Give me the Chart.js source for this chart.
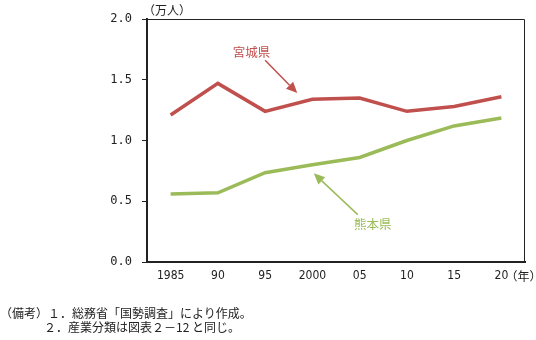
<!DOCTYPE html>
<html>
<head>
<meta charset="utf-8">
<script src="https://cdn.jsdelivr.net/npm/chart.js@4"></script>
<style>
  body { margin: 0; background: #fff; }
  #wrap { position: relative; width: 536px; height: 340px; }
  #myChart { position: absolute; left: 0; top: 0; }
  .note { position: absolute; font-family: 'Noto Sans CJK JP', sans-serif; font-size: 12px; color: #222; white-space: nowrap; }
</style>
</head>
<body>
<div id="wrap">
  <canvas id="myChart" width="536" height="340"></canvas>
  <div class="note" style="left:0px; top:304px;">（備考）１．総務省「国勢調査」により作成。</div>
  <div class="note" style="left:44px; top:318px;">２．産業分類は図表２－12 と同じ。</div>
</div>
<script>
const years = ['1985', '90', '95', '2000', '05', '10', '15', '20'];
const miyagi = [1.21, 1.47, 1.24, 1.34, 1.35, 1.24, 1.28, 1.36];
const kumamoto = [0.56, 0.57, 0.735, 0.80, 0.86, 1.00, 1.12, 1.185];
const yTicks = [0, 0.5, 1.0, 1.5, 2.0];

const red = '#c0504d';
const green = '#9bbb59';
const jp = "'Noto Sans CJK JP', sans-serif";

// frame, unit labels and the two arrows with names
const extras = {
    id: 'extras',
    afterDraw(chart) {
        const c = chart.ctx;
        const a = chart.chartArea;
        const x = chart.scales.x;
        const y = chart.scales.y;
        c.save();
        c.strokeStyle = '#222';
        c.lineWidth = 1;
        c.beginPath();
        c.moveTo(a.left, a.top + 0.5);
        c.lineTo(a.right - 0.5, a.top + 0.5);
        c.lineTo(a.right - 0.5, a.bottom);
        c.stroke();

        c.fillStyle = '#222';
        c.font = '12px ' + jp;
        c.textBaseline = 'middle';
        c.textAlign = 'left';
        c.fillText('（万人）', a.left - 4, 10);
        c.fillText('（年）', x.getPixelForValue(7) + 4, 276);

        function arrow(x1, y1, x2, y2, col) {
            const ang = Math.atan2(y2 - y1, x2 - x1);
            const len = 11, w = 5;
            c.strokeStyle = col;
            c.fillStyle = col;
            c.lineWidth = 1.5;
            c.beginPath();
            c.moveTo(x1, y1);
            c.lineTo(x2 - Math.cos(ang) * len, y2 - Math.sin(ang) * len);
            c.stroke();
            c.beginPath();
            c.moveTo(x2, y2);
            c.lineTo(x2 - Math.cos(ang) * len - Math.sin(ang) * w, y2 - Math.sin(ang) * len + Math.cos(ang) * w);
            c.lineTo(x2 - Math.cos(ang) * len + Math.sin(ang) * w, y2 - Math.sin(ang) * len - Math.cos(ang) * w);
            c.closePath();
            c.fill();
        }

        c.font = '12.5px ' + jp;
        c.textAlign = 'center';
        c.fillStyle = red;
        c.fillText('宮城県', x.getPixelForValue(1.71), y.getPixelForValue(1.73));
        arrow(x.getPixelForValue(2.0), y.getPixelForValue(1.66), x.getPixelForValue(2.68), y.getPixelForValue(1.39), red);

        c.fillStyle = green;
        c.fillText('熊本県', x.getPixelForValue(4.28), y.getPixelForValue(0.31));
        arrow(x.getPixelForValue(3.96), y.getPixelForValue(0.39), x.getPixelForValue(3.03), y.getPixelForValue(0.73), green);
        c.restore();
    }
};

const ctx = document.getElementById('myChart').getContext('2d');
const myChart = new Chart(ctx, {
    type: 'line',
    data: {
        labels: years,
        datasets: [{
            label: '宮城県',
            data: miyagi,
            borderColor: red,
            borderWidth: 3.5,
            pointRadius: 0,
            tension: 0
        }, {
            label: '熊本県',
            data: kumamoto,
            borderColor: green,
            borderWidth: 3.5,
            pointRadius: 0,
            tension: 0
        }]
    },
    options: {
        responsive: false,
        animation: false,
        layout: { padding: { left: 0, top: 19, right: 11, bottom: 0 } },
        plugins: { legend: { display: false }, tooltip: { enabled: false } },
        scales: {
            x: {
                offset: true,
                grid: { display: false, drawTicks: false },
                border: { display: true, color: '#222', width: 2 },
                ticks: { color: '#222', padding: 7, font: { family: "'DejaVu Sans Condensed', sans-serif", size: 12 } },
                afterFit: s => { s.height = 78; }
            },
            y: {
                min: 0,
                max: 2,
                afterBuildTicks: s => { s.ticks = yTicks.map(v => ({ value: v })); },
                grid: { drawOnChartArea: false, drawTicks: true, tickLength: 5, color: '#222' },
                border: { display: true, color: '#222', width: 2 },
                ticks: {
                    color: '#222',
                    padding: 10,
                    font: { family: "'DejaVu Sans Mono', monospace", size: 12 },
                    callback: v => v.toFixed(1)
                },
                afterFit: s => { s.width = 147; }
            }
        }
    },
    plugins: [extras]
});
</script>
</body>
</html>
